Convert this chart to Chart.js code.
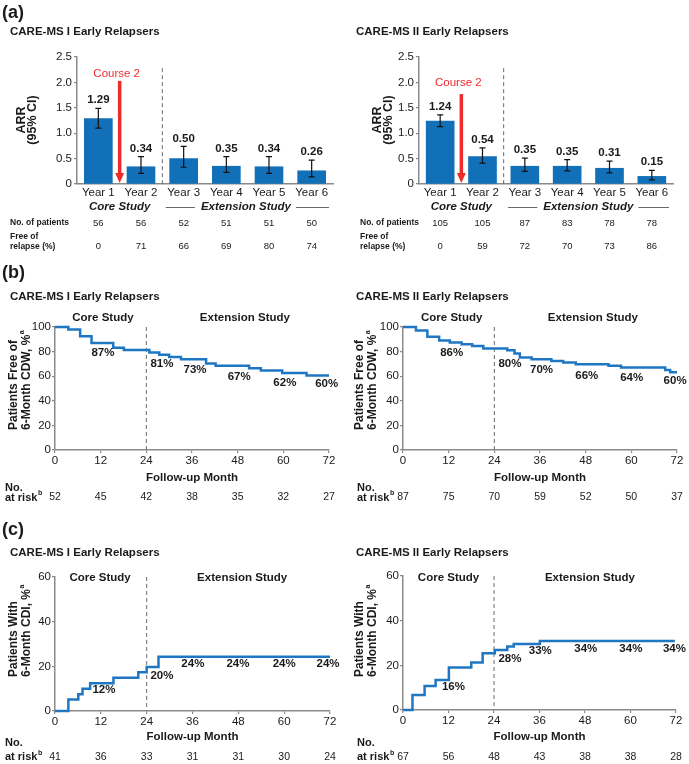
<!DOCTYPE html>
<html><head><meta charset="utf-8">
<script src="https://cdn.jsdelivr.net/npm/chart.js@4/dist/chart.umd.min.js"></script>
<style>
html,body{margin:0;padding:0;background:#fff;}
body{width:689px;height:764px;position:relative;overflow:hidden;}
canvas{position:absolute;}
</style></head><body>
<canvas id="a1" width="345" height="260" style="left:0;top:0"></canvas>
<canvas id="a2" width="344" height="260" style="left:345px;top:0"></canvas>
<canvas id="b1" width="345" height="250" style="left:0;top:260px"></canvas>
<canvas id="b2" width="344" height="250" style="left:345px;top:260px"></canvas>
<canvas id="c1" width="345" height="259" style="left:0;top:505px"></canvas>
<canvas id="c2" width="344" height="259" style="left:345px;top:505px"></canvas>
<script>
// ---------------- DATA ----------------
const years = ['Year 1','Year 2','Year 3','Year 4','Year 5','Year 6'];
const ms1Arr = [1.29, 0.34, 0.50, 0.35, 0.34, 0.26];
const ms1ArrLow = [1.10, 0.21, 0.33, 0.23, 0.21, 0.14];
const ms1ArrHigh = [1.49, 0.54, 0.74, 0.54, 0.54, 0.47];
const ms1Patients = [56, 56, 52, 51, 51, 50];
const ms1FreeOfRelapse = [0, 71, 66, 69, 80, 74];
const ms2Arr = [1.24, 0.54, 0.35, 0.35, 0.31, 0.15];
const ms2ArrLow = [1.13, 0.41, 0.25, 0.26, 0.22, 0.08];
const ms2ArrHigh = [1.36, 0.71, 0.51, 0.48, 0.45, 0.27];
const ms2Patients = [105, 105, 87, 83, 78, 78];
const ms2FreeOfRelapse = [0, 59, 72, 70, 73, 86];

const monthTicks = [0, 12, 24, 36, 48, 60, 72];
const cdw1Month = [0, 3.5, 6.6, 9.6, 15.3, 18.1, 24.8, 27.4, 30, 33.1, 39.7, 42.2, 51, 54.1, 59.7, 66.1, 72];
const cdw1Pct = [100, 98, 92.5, 87, 83.2, 81.2, 79.3, 77.4, 75.6, 73.7, 70.3, 68.4, 66.5, 64.6, 62.7, 60.6, 60.6];
const cdw1Labels = ['87%', '81%', '73%', '67%', '62%', '60%'];
const cdw1AtRisk = [52, 45, 42, 38, 35, 32, 27];

const cdw2Month = [0, 3.4, 6.4, 9.5, 12.3, 15.4, 18.2, 21.1, 27.4, 29.3, 30.7, 33.8, 39, 42.1, 45.4, 54, 57.3, 68.9, 70.2, 72];
const cdw2Pct = [100, 97.2, 92, 89, 87.5, 86, 84.5, 82.6, 81, 78.4, 75.2, 73.8, 72.4, 71.1, 69.8, 68.4, 67.1, 65, 63.3, 63.3];
const cdw2Labels = ['86%', '80%', '70%', '66%', '64%', '60%'];
const cdw2AtRisk = [87, 75, 70, 59, 52, 50, 37];

const cdi1Month = [0, 3.5, 6.1, 7.2, 9.2, 15.3, 21.8, 24, 27.1, 72];
const cdi1Pct = [0, 5.1, 7.5, 10, 12.4, 14.9, 17.4, 19.7, 24.3, 24.3];
const cdi1Labels = ['12%', '20%', '24%', '24%', '24%', '24%'];
const cdi1AtRisk = [41, 36, 33, 31, 31, 30, 24];

const cdi2Month = [0, 2.5, 5.7, 8.6, 12.1, 18, 21, 24.2, 27.5, 29.2, 36.1, 71.7];
const cdi2Pct = [0, 6.7, 10.7, 13.4, 19, 21.3, 25.4, 26.9, 28.4, 29.6, 30.9, 30.9];
const cdi2Labels = ['16%', '28%', '33%', '34%', '34%', '34%'];
const cdi2AtRisk = [67, 56, 48, 43, 38, 38, 28];

// ---------------- STYLE ----------------
const FONT = "'Liberation Sans', Arial, Helvetica, sans-serif";
const INK = '#1a1a1a';
const AXIS = '#8a8a8a';
const BAR = '#1170b8';
const LINE = '#1f77c4';
const RED = '#ee2b2b';
const DASH = '#6a6a6a';
Chart.defaults.font.family = FONT;
Chart.defaults.color = INK;

function txt(c, s, x, y, font, align, color) {
  c.font = font + ' ' + FONT;
  c.textAlign = align || 'center';
  c.textBaseline = 'middle';
  c.fillStyle = color || INK;
  c.fillText(s, x, y);
}
function txtSup(c, s, sup, x, y, size) {
  txt(c, s, x, y, 'bold ' + size + 'px', 'left');
  const w = c.measureText(s).width;
  txt(c, sup, x + w + 0.5, y - size * 0.38, 'bold ' + Math.round(size * 0.6) + 'px', 'left');
}

// ---------------- BAR PANELS ----------------
function makeBar(id, d, L) {
  new Chart(document.getElementById(id), {
    type: 'bar',
    data: { datasets: [{
      data: d.values.map((v, i) => ({ x: i + 1, y: v })),
      backgroundColor: BAR, borderWidth: 0, barThickness: 28
    }] },
    options: {
      responsive: false, animation: false, events: [],
      layout: { padding: L.pad },
      plugins: { legend: { display: false }, tooltip: { enabled: false } },
      scales: {
        x: {
          type: 'linear', min: 0.5, max: 6.5, offset: false,
          afterBuildTicks: s => { s.ticks = d.cats.map((c, i) => ({ value: i + 1 })); },
          afterFit: s => { s.height = 24; },
          ticks: { callback: v => d.cats[v - 1], font: { size: 11.5 }, color: INK, padding: 2, maxRotation: 0, autoSkip: false },
          grid: { display: false, drawTicks: false, offset: false },
          border: { color: AXIS, width: 1.5 }
        },
        y: {
          min: 0, max: 2.5,
          afterFit: s => { s.width = 30; },
          ticks: { stepSize: 0.5, callback: v => v === 0 ? '0' : v.toFixed(1), font: { size: 11.5 }, color: INK, padding: 2 },
          grid: { drawOnChartArea: false, tickLength: 3, color: AXIS, lineWidth: 1.2 },
          border: { color: AXIS, width: 1.5 }
        }
      }
    },
    plugins: [{
      id: 'ann',
      beforeDatasetsDraw(chart) {
        const c = chart.ctx, xs = chart.scales.x, ys = chart.scales.y;
        c.save();
        c.strokeStyle = DASH; c.lineWidth = 1; c.setLineDash([4, 3]);
        const px = xs.getPixelForValue(2.5);
        c.beginPath(); c.moveTo(px, ys.getPixelForValue(L.dashTop)); c.lineTo(px, ys.getPixelForValue(0)); c.stroke();
        c.restore();
      },
      afterDraw(chart) {
        const c = chart.ctx, xs = chart.scales.x, ys = chart.scales.y, a = chart.chartArea;
        c.save();
        if (L.letter) txt(c, L.letter, 2, 13, 'bold 18px', 'left');
        txt(c, d.title, L.titleX, 32, 'bold 11.5px', 'left');
        // y title
        c.save(); c.translate(L.ytX[0], 120); c.rotate(-Math.PI / 2);
        txt(c, 'ARR', 0, 0, 'bold 12.5px'); c.restore();
        c.save(); c.translate(L.ytX[1], 120); c.rotate(-Math.PI / 2);
        txt(c, '(95% CI)', 0, 0, 'bold 12.5px'); c.restore();
        // error bars + values
        c.strokeStyle = '#111'; c.lineWidth = 1.2;
        d.values.forEach((v, i) => {
          const px = xs.getPixelForValue(i + 1);
          const lo = ys.getPixelForValue(d.low[i]), hi = ys.getPixelForValue(d.high[i]);
          c.beginPath();
          c.moveTo(px, lo); c.lineTo(px, hi);
          c.moveTo(px - 3, lo); c.lineTo(px + 3, lo);
          c.moveTo(px - 3, hi); c.lineTo(px + 3, hi);
          c.stroke();
          txt(c, v.toFixed(2), px, hi - 8, 'bold 11.5px');
        });
        // red arrow
        const ax = xs.getPixelForValue(L.arrowX);
        const at = ys.getPixelForValue(L.arrowTop), ab = ys.getPixelForValue(0) - 1;
        c.strokeStyle = RED; c.fillStyle = RED; c.lineWidth = 3.5;
        c.beginPath(); c.moveTo(ax, at); c.lineTo(ax, ab - 8); c.stroke();
        c.beginPath(); c.moveTo(ax - 4.5, ab - 10); c.lineTo(ax + 4.5, ab - 10); c.lineTo(ax, ab); c.closePath(); c.fill();
        txt(c, 'Course 2', ax - 3, L.courseY, '11.5px', 'center', RED);
        // study labels
        txt(c, 'Core Study', xs.getPixelForValue(L.coreX), 207, 'italic bold 11.5px');
        const ex = xs.getPixelForValue(L.extX);
        txt(c, 'Extension Study', ex, 207, 'italic bold 11.5px');
        const ew = c.measureText('Extension Study').width;
        c.strokeStyle = '#444'; c.lineWidth = 0.8;
        c.beginPath();
        c.moveTo(xs.getPixelForValue(L.extLineStart), 207.5); c.lineTo(ex - ew / 2 - 6, 207.5);
        c.moveTo(ex + ew / 2 + 5, 207.5); c.lineTo(a.right - 4, 207.5);
        c.stroke();
        // table
        txt(c, 'No. of patients', L.tableX, 223, 'bold 8.5px', 'left');
        txt(c, 'Free of', L.tableX, 237, 'bold 8.5px', 'left');
        txt(c, 'relapse (%)', L.tableX, 246.5, 'bold 8.5px', 'left');
        d.patients.forEach((n, i) => txt(c, String(n), xs.getPixelForValue(i + 1), 223.5, '9.5px'));
        d.free.forEach((n, i) => txt(c, String(n), xs.getPixelForValue(i + 1), 246.5, '9.5px'));
        c.restore();
      }
    }]
  });
}

makeBar('a1',
  { title: 'CARE-MS I Early Relapsers', cats: years, values: ms1Arr, low: ms1ArrLow, high: ms1ArrHigh, patients: ms1Patients, free: ms1FreeOfRelapse },
  { pad: { left: 47, top: 57, right: 12, bottom: 52 }, letter: '(a)', titleX: 10, ytX: [22, 33], arrowX: 1.5, arrowTop: 2.03, courseY: 74, dashTop: 2.28, coreX: 1.5, extX: 4.46, extLineStart: 2.58, tableX: 10 });
makeBar('a2',
  { title: 'CARE-MS II Early Relapsers', cats: years, values: ms2Arr, low: ms2ArrLow, high: ms2ArrHigh, patients: ms2Patients, free: ms2FreeOfRelapse },
  { pad: { left: 44, top: 57, right: 16, bottom: 52 }, letter: null, titleX: 11, ytX: [33, 44], arrowX: 1.5, arrowTop: 1.77, courseY: 83, dashTop: 2.28, coreX: 1.5, extX: 4.5, extLineStart: 2.6, tableX: 15 });

// ---------------- KM PANELS ----------------
function makeKM(id, d, L) {
  new Chart(document.getElementById(id), {
    type: 'line',
    data: { datasets: [{
      data: d.months.map((m, i) => ({ x: m, y: d.pct[i] })),
      stepped: true, borderColor: LINE, borderWidth: 2.5, pointRadius: 0, fill: false, clip: false
    }] },
    options: {
      responsive: false, animation: false, events: [],
      layout: { padding: L.pad },
      plugins: { legend: { display: false }, tooltip: { enabled: false } },
      scales: {
        x: {
          type: 'linear', min: 0, max: 72,
          afterBuildTicks: s => { s.ticks = monthTicks.map(v => ({ value: v })); },
          afterFit: s => { s.height = 20; },
          ticks: { font: { size: 11.5 }, color: INK, padding: 1, maxRotation: 0, autoSkip: false },
          grid: { drawOnChartArea: false, tickLength: 3, color: AXIS, lineWidth: 1.2 },
          border: { color: AXIS, width: 1.5 }
        },
        y: {
          min: 0, max: d.ymax,
          afterFit: s => { s.width = 30; },
          ticks: { stepSize: 20, font: { size: 11.5 }, color: INK, padding: 1 },
          grid: { drawOnChartArea: false, tickLength: 3, color: AXIS, lineWidth: 1.2 },
          border: { color: AXIS, width: 1.5 }
        }
      }
    },
    plugins: [{
      id: 'ann',
      beforeDatasetsDraw(chart) {
        const c = chart.ctx, xs = chart.scales.x, ys = chart.scales.y;
        c.save();
        c.strokeStyle = DASH; c.lineWidth = 1; c.setLineDash([4, 3]);
        const px = xs.getPixelForValue(24);
        c.beginPath(); c.moveTo(px, ys.getPixelForValue(d.ymax)); c.lineTo(px, ys.getPixelForValue(0)); c.stroke();
        c.restore();
      },
      afterDraw(chart) {
        const c = chart.ctx, xs = chart.scales.x, ys = chart.scales.y, a = chart.chartArea;
        c.save();
        if (L.letter) txt(c, L.letter, 2, L.letterY, 'bold 18px', 'left');
        txt(c, d.title, L.titleX, L.titleY, 'bold 11.5px', 'left');
        // y title (rotated, aligned at bottom)
        c.save(); c.translate(L.ytX[0], L.ytBottom); c.rotate(-Math.PI / 2);
        txt(c, d.yTitle[0], 0, 0, 'bold 12px', 'left'); c.restore();
        c.save(); c.translate(L.ytX[1], L.ytBottom); c.rotate(-Math.PI / 2);
        txtSup(c, d.yTitle[1], 'a', 0, 0, 12); c.restore();
        // study labels
        txt(c, 'Core Study', xs.getPixelForValue(L.coreX), L.studyY, 'bold 11.5px');
        txt(c, 'Extension Study', xs.getPixelForValue(L.extX), L.studyY, 'bold 11.5px');
        // percentage labels
        d.labels.forEach((s, i) => {
          const p = L.labelPos[i];
          txt(c, s, xs.getPixelForValue(p[0]), ys.getPixelForValue(p[1]), 'bold 11.5px');
        });
        // x title
        txt(c, 'Follow-up Month', (a.left + a.right) / 2, L.followY, 'bold 11.5px');
        // at risk
        txt(c, 'No.', L.riskX, L.noY, 'bold 11px', 'left');
        txtSup(c, 'at risk', 'b', L.riskX, L.riskY, 11);
        d.atRisk.forEach((n, i) => txt(c, String(n), xs.getPixelForValue(monthTicks[i]), L.riskY, '10.5px'));
        c.restore();
      }
    }]
  });
}

makeKM('b1',
  { title: 'CARE-MS I Early Relapsers', months: cdw1Month, pct: cdw1Pct, labels: cdw1Labels, atRisk: cdw1AtRisk, ymax: 100, yTitle: ['Patients Free of', '6-Month CDW, %'] },
  { pad: { left: 25, top: 67, right: 16, bottom: 40 }, letter: '(b)', letterY: 13, titleX: 10, titleY: 37, ytX: [13.5, 27], ytBottom: 170,
    coreX: 12.6, extX: 49.9, studyY: 58, followY: 218, noY: 228, riskY: 237.5, riskX: 5,
    labelPos: [[12.6, 78.7], [28.1, 69.7], [36.8, 65], [48.4, 59.4], [60.4, 55], [71.4, 53.4]] });
makeKM('b2',
  { title: 'CARE-MS II Early Relapsers', months: cdw2Month, pct: cdw2Pct, labels: cdw2Labels, atRisk: cdw2AtRisk, ymax: 100, yTitle: ['Patients Free of', '6-Month CDW, %'] },
  { pad: { left: 28, top: 67, right: 12, bottom: 40 }, letter: null, titleX: 11, titleY: 37, ytX: [15, 28], ytBottom: 170,
    coreX: 12.8, extX: 49.9, studyY: 58, followY: 218, noY: 228, riskY: 237.5, riskX: 12,
    labelPos: [[12.8, 78.7], [28.1, 69.7], [36.4, 65], [48.3, 60], [60.1, 58.4], [71.5, 56]] });
makeKM('c1',
  { title: 'CARE-MS I Early Relapsers', months: cdi1Month, pct: cdi1Pct, labels: cdi1Labels, atRisk: cdi1AtRisk, ymax: 60, yTitle: ['Patients With', '6-Month CDI, %'] },
  { pad: { left: 25, top: 72, right: 15, bottom: 33 }, letter: '(c)', letterY: 25, titleX: 10, titleY: 48, ytX: [13.5, 27], ytBottom: 172,
    coreX: 11.8, extX: 49, studyY: 73, followY: 232, noY: 238, riskY: 252, riskX: 5,
    labelPos: [[12.8, 9.3], [28, 15.8], [36.1, 20.9], [47.9, 20.9], [60, 20.9], [71.5, 20.9]] });
makeKM('c2',
  { title: 'CARE-MS II Early Relapsers', months: cdi2Month, pct: cdi2Pct, labels: cdi2Labels, atRisk: cdi2AtRisk, ymax: 60, yTitle: ['Patients With', '6-Month CDI, %'] },
  { pad: { left: 28, top: 71, right: 13, bottom: 34 }, letter: null, titleX: 11, titleY: 48, ytX: [15, 28], ytBottom: 172,
    coreX: 12, extX: 49.3, studyY: 73, followY: 232, noY: 238, riskY: 252, riskX: 12,
    labelPos: [[13.3, 10.2], [28.2, 23.1], [36.2, 26.6], [48.2, 27.6], [60.1, 27.6], [71.6, 27.6]] });
</script>
</body></html>
